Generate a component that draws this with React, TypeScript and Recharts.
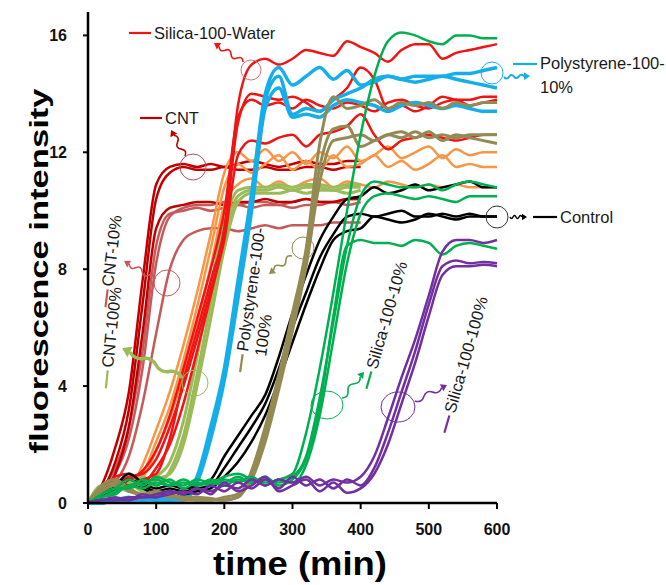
import React from "react";
import { LineChart, Line, XAxis, YAxis } from "recharts";

// sampling times (min)
const TIME = [
  0, 20, 40, 60, 80, 100, 120, 140, 160, 180, 200, 220, 240, 260, 280, 300,
  320, 340, 360, 380, 400, 420, 440, 460, 480, 500, 520, 540, 560, 580, 600,
];

// CNT (stops at 400 min)
const CNT_A = [0, 0.6, 1.9, 3.8, 7.6, 10.9, 11.5, 11.6, 11.5, 11.6, 11.5, 11.6, 11.7, 11.6, 11.5, 11.6, 11.7, 11.6, 11.6, 11.7, 11.7];
const CNT_B = [0, 0.4, 1.4, 3.2, 6.8, 10.4, 11.3, 11.5, 11.4, 11.4, 11.5, 11.4, 11.4, 11.5, 11.4, 11.4, 11.5, 11.5, 11.4, 11.5, 11.5];
const CNT_C = [0, 0.3, 1.0, 2.6, 5.8, 9.4, 10.1, 10.2, 10.3, 10.3, 10.2, 10.3, 10.3, 10.4, 10.3, 10.3, 10.4, 10.3, 10.3, 10.4, 10.4];

// CNT-10%
const C10_A = [0, 0.4, 1.0, 2.2, 4.6, 8.2, 9.8, 10.1, 10.2, 10.2, 10.3, 10.2, 10.3, 10.3, 10.2, 10.3, 10.4, 10.3, 10.3, 10.4, 10.4];
const C10_B = [0, 0.3, 0.7, 1.6, 3.4, 5.8, 8.0, 9.0, 9.3, 9.4, 9.4, 9.3, 9.4, 9.5, 9.4, 9.5, 9.5, 9.5, 9.6, 9.6, 9.6];
const C10_C = [0, 0.5, 1.2, 2.6, 5.2, 8.8, 9.9, 10.0, 10.1, 10.0, 10.1, 10.2, 10.1, 10.2, 10.2, 10.1, 10.2, 10.2, 10.3, 10.2, 10.3];

// CNT-100%
const C100_A = [0, 0.5, 0.3, 0.8, 0.5, 0.9, 1.4, 2.8, 5.0, 7.4, 9.6, 10.7, 10.8, 10.8, 10.9, 10.8, 10.9, 10.9, 10.8, 10.9, 10.9];
const C100_B = [0, 0.3, 0.6, 0.4, 0.9, 0.6, 1.1, 2.3, 4.4, 6.8, 9.1, 10.5, 10.7, 10.7, 10.8, 10.7, 10.8, 10.8, 10.7, 10.8, 10.8];
const C100_C = [0, 0.6, 0.4, 0.7, 0.4, 0.8, 1.0, 2.0, 4.0, 6.3, 8.7, 10.3, 10.6, 10.6, 10.6, 10.7, 10.6, 10.7, 10.7, 10.6, 10.7];

// orange (unlabelled)
const OR_A = [0, 0.4, 0.7, 0.5, 1.3, 2.5, 3.8, 5.4, 7.2, 9.2, 11.3, 12.0, 11.7, 12.1, 11.7, 12.0, 11.6, 12.0, 11.8, 12.2, 11.7, 11.9, 12.2, 11.8, 12.0, 12.2, 11.8, 12.1, 11.9, 12.0, 12.0];
const OR_B = [0, 0.3, 0.5, 0.6, 1.0, 2.1, 3.3, 4.9, 6.7, 8.7, 10.8, 11.6, 11.3, 11.6, 11.9, 11.4, 11.7, 11.4, 11.9, 11.5, 11.6, 11.9, 11.5, 11.7, 11.4, 11.6, 11.9, 11.5, 11.6, 11.5, 11.5];
const OR_C = [0, 0.5, 0.4, 0.8, 0.9, 1.8, 2.9, 4.4, 6.2, 8.1, 10.2, 10.9, 11.1, 10.8, 11.0, 10.8, 11.0, 11.1, 10.8, 11.0, 10.9, 10.8, 11.0, 10.9, 10.8, 10.9, 10.8, 10.9, 10.8, 10.8, 10.8];

// Silica-100-Water
const RED_A = [0, 0.3, 0.8, 0.6, 0.8, 1.0, 2.2, 4.2, 5.9, 7.6, 9.4, 13.6, 15.0, 15.2, 15.0, 15.2, 15.5, 15.4, 15.3, 15.8, 15.6, 15.4, 15.1, 15.5, 15.7, 15.7, 15.2, 15.4, 15.5, 15.6, 15.7];
const RED_B = [0, 0.4, 0.9, 1.0, 0.7, 1.2, 2.0, 3.4, 5.2, 7.1, 9.2, 13.0, 14.0, 13.9, 13.8, 13.9, 13.7, 13.4, 13.8, 14.2, 14.9, 14.5, 13.5, 13.6, 13.4, 13.6, 13.9, 13.8, 13.8, 13.9, 13.9];
const RED_C = [0, 0.2, 0.6, 0.9, 1.0, 1.5, 2.6, 4.0, 5.6, 7.3, 9.0, 11.9, 12.4, 12.3, 12.5, 12.6, 12.2, 12.6, 12.7, 12.9, 13.3, 12.6, 12.1, 12.4, 12.5, 12.6, 12.5, 12.4, 12.5, 12.6, 12.6];
const RED_D = [0, 0.3, 0.5, 0.8, 1.1, 1.8, 3.0, 4.6, 6.3, 8.0, 10.0, 13.2, 13.8, 13.6, 13.7, 13.5, 13.8, 13.6, 13.5, 13.7, 13.6, 13.4, 13.7, 13.8, 13.6, 13.5, 13.7, 13.8, 13.6, 13.7, 13.8];

// Polystyrene-100-10%
const BL_A = [0, 0, 0.1, 0.2, 0.1, 0.1, 0.1, 0.2, 0.9, 2.6, 4.6, 7.6, 10.6, 14.0, 14.9, 14.3, 14.6, 14.9, 14.5, 14.8, 14.3, 14.4, 14.6, 14.5, 14.6, 14.6, 14.6, 14.7, 14.7, 14.8, 14.9];
const BL_B = [0, 0.1, 0.1, 0.1, 0.2, 0.1, 0.1, 0.2, 0.8, 2.4, 4.4, 7.3, 10.3, 13.8, 14.6, 13.3, 13.5, 13.4, 13.8, 14.0, 14.2, 14.5, 14.6, 14.5, 14.4, 14.5, 14.6, 14.5, 14.4, 14.3, 14.2];
const BL_C = [0, 0, 0.1, 0.1, 0.1, 0.2, 0.1, 0.1, 0.7, 2.2, 4.2, 7.0, 10.0, 13.5, 14.2, 13.2, 13.3, 13.2, 13.6, 13.8, 13.7, 13.6, 13.4, 13.6, 13.7, 13.6, 13.5, 13.6, 13.5, 13.4, 13.4];

// Polystyrene-100-100%
const OL_A = [0, 0.6, 0.8, 0.5, 0.3, 0.4, 0.3, 0.2, 0.2, 0.15, 0.1, 0.2, 1.1, 2.6, 4.4, 6.5, 8.7, 12.3, 13.9, 13.5, 13.6, 13.8, 13.5, 13.7, 13.6, 13.7, 13.5, 13.7, 13.6, 13.7, 13.7];
const OL_B = [0, 0.5, 0.7, 0.4, 0.3, 0.3, 0.2, 0.2, 0.1, 0.1, 0.1, 0.2, 0.9, 2.3, 4.1, 6.2, 8.4, 11.5, 12.8, 12.9, 12.2, 12.4, 12.6, 12.7, 12.5, 12.7, 12.4, 12.6, 12.5, 12.4, 12.3];
const OL_C = [0, 0.4, 0.6, 0.5, 0.2, 0.3, 0.3, 0.1, 0.1, 0.1, 0.2, 0.3, 0.8, 2.1, 3.9, 5.9, 8.1, 11.0, 12.4, 12.5, 12.6, 12.4, 12.6, 12.5, 12.7, 12.5, 12.6, 12.5, 12.6, 12.6, 12.6];

// Control
const CT_A = [0, 0.3, 0.6, 1.0, 0.7, 0.5, 0.6, 0.5, 0.6, 0.8, 1.6, 2.3, 3.0, 3.7, 5.0, 6.5, 7.8, 9.0, 9.8, 10.4, 10.5, 10.8, 10.6, 10.7, 10.9, 10.7, 10.8, 10.9, 11.0, 10.8, 10.8];
const CT_B = [0, 0.2, 0.5, 0.8, 0.6, 0.4, 0.5, 0.4, 0.5, 0.6, 1.2, 1.9, 2.6, 3.4, 4.6, 6.0, 7.2, 8.4, 9.2, 9.8, 9.9, 9.8, 9.9, 10.0, 9.8, 9.8, 9.9, 9.8, 9.9, 9.8, 9.8];
const CT_C = [0, 0.2, 0.4, 0.6, 0.5, 0.3, 0.4, 0.3, 0.4, 0.5, 0.9, 1.4, 2.1, 3.0, 4.2, 5.5, 6.8, 8.0, 9.0, 9.3, 9.4, 9.8, 9.7, 9.6, 9.7, 9.9, 9.8, 9.7, 9.8, 9.8, 9.8];

// Silica-100-10%
const GR_A = [0, 0.3, 0.5, 0.8, 0.6, 0.9, 0.7, 0.6, 0.8, 0.7, 0.9, 1.0, 0.8, 0.7, 0.8, 1.0, 2.4, 4.6, 7.2, 10.0, 12.6, 14.6, 15.8, 16.1, 16.0, 15.8, 15.7, 16.0, 16.0, 15.9, 15.9];
const GR_B = [0, 0.2, 0.4, 0.6, 0.7, 0.8, 0.6, 0.7, 0.6, 0.8, 0.7, 0.9, 0.7, 0.8, 0.7, 0.9, 1.6, 3.6, 6.2, 8.8, 10.5, 11.0, 10.9, 10.8, 10.8, 10.9, 10.7, 10.9, 11.0, 10.9, 10.8];
const GR_C = [0, 0.3, 0.5, 0.5, 0.8, 0.6, 0.8, 0.5, 0.7, 0.6, 0.8, 0.7, 0.9, 0.6, 0.8, 0.7, 1.3, 3.0, 5.6, 8.2, 9.9, 10.5, 10.6, 10.5, 10.4, 10.5, 10.4, 10.3, 10.5, 10.5, 10.5];
const GR_D = [0, 0.2, 0.3, 0.6, 0.5, 0.7, 0.6, 0.8, 0.6, 0.7, 0.6, 0.8, 0.7, 0.9, 0.6, 0.8, 1.5, 3.3, 6.4, 8.8, 9.0, 8.9, 8.9, 8.8, 9.0, 8.9, 8.5, 8.8, 8.9, 8.8, 8.7];

// Silica-100-100%
const PU_A = [0, 0.1, 0.1, 0.2, 0.2, 0.3, 0.4, 0.3, 0.5, 0.4, 0.6, 0.5, 0.8, 0.6, 0.8, 0.7, 0.9, 0.6, 0.8, 0.7, 0.9, 1.6, 2.9, 4.3, 5.6, 7.1, 8.6, 9.0, 9.0, 8.9, 9.0];
const PU_B = [0, 0.1, 0.1, 0.1, 0.2, 0.2, 0.3, 0.4, 0.3, 0.6, 0.4, 0.7, 0.5, 0.8, 0.5, 0.9, 0.6, 0.8, 0.5, 0.8, 0.6, 1.2, 2.4, 3.8, 5.2, 6.8, 8.1, 8.3, 8.2, 8.25, 8.2];
const PU_C = [0, 0.1, 0.2, 0.1, 0.3, 0.2, 0.4, 0.3, 0.5, 0.3, 0.7, 0.4, 0.6, 0.9, 0.4, 0.6, 0.8, 0.4, 0.7, 0.35, 0.5, 1.0, 2.0, 3.4, 4.8, 6.4, 7.8, 8.1, 8.1, 8.15, 8.1];

const X_TICKS = [0, 100, 200, 300, 400, 500, 600];
const Y_TICKS = [0, 4, 8, 12, 16];

const RED = "#f01414";
const DARKRED = "#c00000";
const ROSY = "#c55a5a";
const LIME = "#9bbb59";
const ORANGE = "#f79646";
const BLUE = "#16aee8";
const OLIVE = "#948a54";
const GREEN = "#00b050";
const PURPLE = "#7030a0";

const FONT = '"Liberation Sans", Arial, sans-serif';

const SERIES = [
  { key: "c10a", values: C10_A, color: ROSY, w: 2.5 },
  { key: "c10b", values: C10_B, color: ROSY, w: 2.5 },
  { key: "c10c", values: C10_C, color: ROSY, w: 2.5 },
  { key: "cnta", values: CNT_A, color: DARKRED, w: 2.5 },
  { key: "cntb", values: CNT_B, color: DARKRED, w: 2.5 },
  { key: "cntc", values: CNT_C, color: DARKRED, w: 2.5 },
  { key: "ora", values: OR_A, color: ORANGE, w: 2.5 },
  { key: "orb", values: OR_B, color: ORANGE, w: 2.5 },
  { key: "orc", values: OR_C, color: ORANGE, w: 2.5 },
  { key: "c100a", values: C100_A, color: LIME, w: 3 },
  { key: "c100b", values: C100_B, color: LIME, w: 3 },
  { key: "c100c", values: C100_C, color: LIME, w: 3 },
  { key: "reda", values: RED_A, color: RED, w: 2.5 },
  { key: "redb", values: RED_B, color: RED, w: 2.5 },
  { key: "redc", values: RED_C, color: RED, w: 2.5 },
  { key: "redd", values: RED_D, color: RED, w: 2.5 },
  { key: "bla", values: BL_A, color: BLUE, w: 3.5 },
  { key: "blb", values: BL_B, color: BLUE, w: 3.5 },
  { key: "blc", values: BL_C, color: BLUE, w: 3.5 },
  { key: "cta", values: CT_A, color: "#000", w: 2.5 },
  { key: "ctb", values: CT_B, color: "#000", w: 2.5 },
  { key: "ctc", values: CT_C, color: "#000", w: 2.5 },
  { key: "ola", values: OL_A, color: OLIVE, w: 3 },
  { key: "olb", values: OL_B, color: OLIVE, w: 3 },
  { key: "olc", values: OL_C, color: OLIVE, w: 3 },
  { key: "gra", values: GR_A, color: GREEN, w: 2.5 },
  { key: "grb", values: GR_B, color: GREEN, w: 2.5 },
  { key: "grc", values: GR_C, color: GREEN, w: 2.5 },
  { key: "grd", values: GR_D, color: GREEN, w: 2.5 },
  { key: "pua", values: PU_A, color: PURPLE, w: 2.5 },
  { key: "pub", values: PU_B, color: PURPLE, w: 2.5 },
  { key: "puc", values: PU_C, color: PURPLE, w: 2.5 },
];

const rows = TIME.map((t, i) => {
  const r: Record<string, number | null> = { t };
  SERIES.forEach((s) => {
    r[s.key] = i < s.values.length ? s.values[i] : null;
  });
  return r;
});

function Wavy({ x1, y1, x2, y2, color, w = 1.6, n = 4, amp = 2.5, head = 6 }: any) {
  const dx = x2 - x1;
  const dy = y2 - y1;
  const L = Math.hypot(dx, dy);
  const ux = dx / L;
  const uy = dy / L;
  const nx = -uy;
  const ny = ux;
  const ex = x2 - ux * head;
  const ey = y2 - uy * head;
  const ldx = ex - x1;
  const ldy = ey - y1;
  let d = `M${x1},${y1}`;
  for (let i = 0; i < n; i++) {
    const a = (i + 0.5) / n;
    const b = (i + 1) / n;
    const s = i % 2 ? -1 : 1;
    d += ` Q${x1 + ldx * a + nx * amp * 2 * s},${y1 + ldy * a + ny * amp * 2 * s} ${x1 + ldx * b},${y1 + ldy * b}`;
  }
  const hw = head * 0.65;
  const tri = `${x2},${y2} ${ex + nx * hw},${ey + ny * hw} ${ex - nx * hw},${ey - ny * hw}`;
  return (
    <g>
      <path d={d} fill="none" stroke={color} strokeWidth={w} />
      <polygon points={tri} fill={color} />
    </g>
  );
}

function Tilted({ x, y, angle, children, dash, dashLen = 18 }: any) {
  return (
    <g transform={`translate(${x},${y}) rotate(${angle})`}>
      {dash && <line x1={-dashLen - 3} y1={-5} x2={-3} y2={-5} stroke={dash} strokeWidth={2.2} />}
      <text x={0} y={0} fontSize={16.5} fill="#1a1a1a" fontFamily={FONT}>
        {children}
      </text>
    </g>
  );
}

function Annotations() {
  const lbl = { fontSize: 16.5, fill: "#1a1a1a", fontFamily: FONT } as const;
  return (
    <svg
      width={666}
      height={585}
      style={{ position: "absolute", left: 0, top: 0, pointerEvents: "none" }}
    >
      {/* axis titles */}
      <text
        transform="translate(48,271) rotate(-90)"
        textAnchor="middle"
        fontSize={26}
        fontWeight={700}
        fontFamily={FONT}
        textLength={365}
        lengthAdjust="spacingAndGlyphs"
        fill="#000"
      >
        fluorescence intensity
      </text>
      <text
        x={300}
        y={575}
        textAnchor="middle"
        fontSize={34}
        fontWeight={700}
        fontFamily={FONT}
        textLength={174}
        lengthAdjust="spacingAndGlyphs"
        fill="#000"
      >
        time (min)
      </text>

      {/* Silica-100-Water */}
      <line x1={129} y1={33} x2={151} y2={33} stroke={RED} strokeWidth={2.2} />
      <text x={154} y={39} {...lbl}>Silica-100-Water</text>
      <circle cx={251} cy={70} r={10} fill="none" stroke="#e07070" strokeWidth={1} />
      <Wavy x1={243} y1={62} x2={214} y2={43} color={RED} />

      {/* CNT */}
      <line x1={140} y1={118} x2={162} y2={118} stroke={DARKRED} strokeWidth={2.2} />
      <text x={165} y={124} {...lbl}>CNT</text>
      <circle cx={193} cy={167} r={13} fill="none" stroke="#b05050" strokeWidth={1} />
      <Wavy x1={185} y1={156} x2={171} y2={130} color={DARKRED} n={3} />

      {/* CNT-10% */}
      <Tilted x={113} y={287} angle={-83} dash={ROSY}>CNT-10%</Tilted>
      <circle cx={167} cy={283} r={13} fill="none" stroke={ROSY} strokeWidth={1} />
      <Wavy x1={155} y1={279} x2={124} y2={261} color={ROSY} />

      {/* CNT-100% */}
      <Tilted x={113} y={368} angle={-84} dash={LIME}>CNT-100%</Tilted>
      <circle cx={195} cy={383} r={13} fill="none" stroke={LIME} strokeWidth={1} />
      <Wavy x1={182} y1={378} x2={122} y2={348} color={LIME} w={3.5} n={4} amp={2.5} head={9} />

      {/* Polystyrene-100-100% */}
      <Tilted x={248} y={352} angle={-82} dash={OLIVE}>Polystyrene-100-</Tilted>
      <Tilted x={266} y={357} angle={-82}>100%</Tilted>
      <circle cx={303} cy={248} r={11} fill="none" stroke={OLIVE} strokeWidth={1} />
      <Wavy x1={292} y1={256} x2={269} y2={274} color={OLIVE} n={3} />

      {/* Silica-100-10% */}
      <Tilted x={377} y={370} angle={-74} dash={GREEN}>Silica-100-10%</Tilted>
      <ellipse cx={327} cy={405} rx={16} ry={14} fill="none" stroke={GREEN} strokeWidth={1} />
      <Wavy x1={342} y1={398} x2={364} y2={372} color={GREEN} n={3} />

      {/* Silica-100-100% */}
      <Tilted x={455} y={414} angle={-74} dash={PURPLE}>Silica-100-100%</Tilted>
      <ellipse cx={398} cy={407} rx={17} ry={15} fill="none" stroke={PURPLE} strokeWidth={1} />
      <Wavy x1={415} y1={401} x2={447} y2={385} color={PURPLE} n={3} />

      {/* Polystyrene-100-10% */}
      <circle cx={492} cy={73} r={11} fill="none" stroke={BLUE} strokeWidth={1} />
      <Wavy x1={504} y1={77} x2={530} y2={76} color={BLUE} w={2} n={4} amp={1.6} />
      <line x1={513} y1={64} x2={537} y2={64} stroke={BLUE} strokeWidth={2.2} />
      <text x={540} y={69} {...lbl}>Polystyrene-100-</text>
      <text x={540} y={93} {...lbl}>10%</text>

      {/* Control */}
      <circle cx={497} cy={217} r={11} fill="none" stroke="#333" strokeWidth={1} />
      <Wavy x1={510} y1={217} x2={527} y2={217} color="#000" w={1.5} n={4} amp={1.5} head={5} />
      <line x1={533} y1={217} x2={557} y2={217} stroke="#000" strokeWidth={2.2} />
      <text x={560} y={223} {...lbl}>Control</text>
    </svg>
  );
}

export default function App() {
  const tick = { fill: "#111", fontSize: 16, fontWeight: 700, fontFamily: FONT };
  return (
    <div
      style={{
        position: "absolute",
        left: 0,
        top: 0,
        width: 666,
        height: 585,
        background: "#fff",
      }}
    >
      <LineChart
        width={666}
        height={585}
        data={rows}
        margin={{ top: 12, right: 169, bottom: 52, left: 28 }}
      >
        <XAxis
          dataKey="t"
          type="number"
          domain={[0, 600]}
          ticks={X_TICKS}
          tick={tick}
          tickSize={6}
          tickMargin={15}
          height={30}
          axisLine={{ stroke: "#000", strokeWidth: 2.5 }}
          tickLine={{ stroke: "#000", strokeWidth: 2 }}
        />
        <YAxis
          type="number"
          domain={[0, 16.8]}
          ticks={Y_TICKS}
          tick={tick}
          tickSize={5}
          tickMargin={16}
          width={60}
          axisLine={{ stroke: "#000", strokeWidth: 2.5 }}
          tickLine={{ stroke: "#000", strokeWidth: 2 }}
        />
        {SERIES.map((s) => (
          <Line
            key={s.key}
            dataKey={s.key}
            type="monotone"
            stroke={s.color}
            strokeWidth={s.w}
            dot={false}
            activeDot={false}
            connectNulls={false}
            isAnimationActive={false}
          />
        ))}
      </LineChart>
      <Annotations />
    </div>
  );
}
